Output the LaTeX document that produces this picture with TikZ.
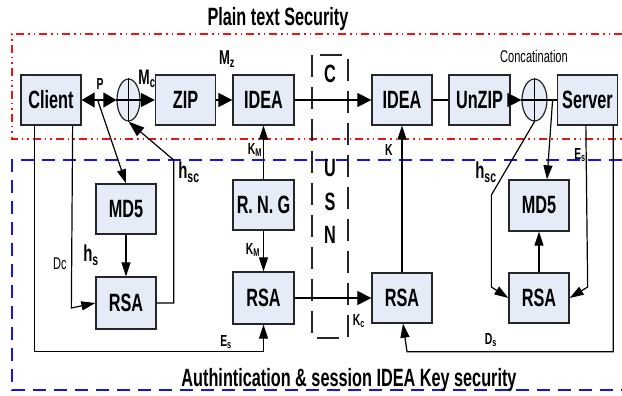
\documentclass[tikz,border=0pt]{standalone}
\usepackage{fontspec}
\setmainfont{Liberation Sans}[FakeStretch=0.65]
\usetikzlibrary{arrows.meta,shapes.geometric,calc}
\definecolor{boxfill}{RGB}{229,235,247}
\definecolor{redline}{RGB}{235,20,20}
\definecolor{blueline}{RGB}{20,20,235}
\begin{document}
\begin{tikzpicture}[x=1pt,y=-1pt,
  box/.style={draw=black!85, fill=boxfill, line width=1.3pt, minimum width=60pt, minimum height=50pt, inner sep=0pt, font=\bfseries\fontsize{25}{25}\selectfont},
  conc/.style={draw=black!85, fill=boxfill, line width=1.2pt, ellipse, minimum width=23pt, minimum height=42pt, inner sep=0pt},
  ln/.style={line width=1.2pt},
  arr/.style={ln, -{Triangle[length=14pt,width=9pt]}},
  bigarr/.style={ln, -{Triangle[length=14pt,width=14pt]}},
  lab/.style={inner sep=0pt, font=\bfseries\fontsize{16}{16}\selectfont},
  blab/.style={inner sep=0pt, font=\bfseries\fontsize{19}{19}\selectfont},
  hlab/.style={inner sep=0pt, font=\bfseries\fontsize{23}{23}\selectfont},
  ttl/.style={inner sep=0pt, font=\bfseries\fontsize{25}{25}\selectfont}
]
\useasboundingbox (0,0) rectangle (622,396);
% region outlines
\draw[redline, line width=1.2pt, dash pattern=on 8pt off 4pt on 1.5pt off 4pt on 1.5pt off 4pt]
  (622,34) -- (12,34) -- (12,139) -- (622,139);
\draw[blueline, line width=1.3pt, dash pattern=on 13pt off 8pt]
  (622,160) -- (12,160) -- (12,390) -- (622,390);
\draw[black!85, line width=1.2pt, dash pattern=on 22pt off 10pt] (312,55) rectangle (348,338);
\node[ttl] (t1) at (278,19) {Plain text Security};
\node[ttl] (t2) at (349,380) {Authintication \& session IDEA Key security};
% CUSN
\node[box, draw=none, fill=none, minimum width=0pt, minimum height=0pt] (cC) at (330,74) {C};
\node[box, draw=none, fill=none, minimum width=0pt, minimum height=0pt] (cU) at (330,168) {U};
\node[box, draw=none, fill=none, minimum width=0pt, minimum height=0pt] (cS) at (330,202) {S};
\node[box, draw=none, fill=none, minimum width=0pt, minimum height=0pt] (cN) at (330,235) {N};
% boxes
\node[box] (client) at (51,100) {Client};
\node[conc] (c1) at (128.5,100) {};
\draw[ln] (c1.north) -- (c1.south) (c1.west) -- (c1.east);
\node[blab, font=\bfseries\fontsize{21}{21}\selectfont] (lMc) at (147,79) {M\textsubscript{c}};
\node[box] (zip) at (185.5,100) {ZIP};
\node[box, minimum width=61pt] (idea1) at (263.5,100) {IDEA};
\node[box] (idea2) at (402,100) {IDEA};
\node[box, minimum width=61pt] (unzip) at (479.5,100) {UnZIP};
\node[conc, minimum width=25pt] (c2) at (534.5,100) {};
\draw[ln] (c2.north) -- (c2.south) (c2.west) -- (c2.east);
\node[box] (server) at (587.5,100) {Server};
\node[box] (md5a) at (126,209) {MD5};
\node[box, minimum height=52pt] (rsaa) at (126,303) {RSA};
\node[box, minimum width=61pt] (rng) at (263.5,205) {R.\,N.\,G};
\node[box, minimum width=61pt, minimum height=52pt] (rsab) at (263.5,298) {RSA};
\node[box] (rsac) at (402,298) {RSA};
\node[box, minimum height=51pt] (md5b) at (539,205.5) {MD5};
\node[box] (rsad) at (539,298) {RSA};
% top flow
\draw[ln, {Triangle[length=13pt,width=15pt]}-{Triangle[length=13pt,width=15pt]}] (client.east) -- (c1.west);
\draw[bigarr] (c1.east) -- (zip.west);
\draw[bigarr] (zip.east) -- (idea1.west);
\draw[bigarr] (idea1.east) -- (idea2.west);
\draw[ln] (idea2.east) -- (unzip.west);
\draw[bigarr] (unzip.east) -- (c2.west);
\draw[ln] (c2.east) -- (server.west);
% left side
\draw[arr] ($(client.east)+(16,0)$) -- (md5a.north);
\draw[arr] (md5a.south) -- (rsaa.north);
\draw[ln, -{Triangle[length=16pt,width=11pt]}] (rsaa.east) -| ($(rsaa.east)+(17,-143)$) -- (c1.south);
\draw[arr] ($(client.south east)+(-9,0)$) -- ($(rsaa.west)+(-24,5)$) -- (rsaa.west);
\draw[arr] ($(client.south west)+(14,0)$) |- ($(rsab.south)+(0,27)$) -- (rsab.south);
% middle
\draw[arr] (rng.north) -- (idea1.south);
\draw[arr] (rng.south) -- (rsab.north);
\draw[bigarr] (rsab.east) -- (rsac.west);
\draw[arr] (rsac.north) -- (idea2.south);
% right side
\draw[arr] ($(c2.east)+(5,0)$) -- ($(md5b.north)+(8,0)$);
\draw[arr] (c2.south) -- ($(rsad.west)+(-17,-103)$) -- ($(rsad.west)+(-17,-11)$) -- (rsad.west);
\draw[arr] (rsad.north) -- (md5b.south);
\draw[arr] ($(server.south west)+(29,0)$) -- ($(rsad.east)+(18,-11)$) -- (rsad.east);
\draw[arr] ($(server.south east)+(-5,0)$) |- ($(rsac.south)+(5,28)$) -- ($(rsac.south)+(1,0)$);
% labels
\node[lab] (lP) at (100,84) {P};
\node[blab, font=\bfseries\fontsize{20}{20}\selectfont] (lMz) at (227,59) {M\textsubscript{z}};
\node[hlab] (lhsc1) at (189,172) {h\textsubscript{sc}};
\node[hlab] (lhs) at (91,255) {h\textsubscript{s}};
\node[lab, font=\fontsize{17}{17}\selectfont] (lDc) at (60,264) {Dc};
\node[lab] (lEs1) at (226,342) {E\textsubscript{s}};
\node[lab] (lKM1) at (255,150) {K\textsubscript{M}};
\node[lab] (lKM2) at (253,250) {K\textsubscript{M}};
\node[lab] (lKc) at (359,321) {K\textsubscript{c}};
\node[lab] (lK) at (389,150) {K};
\node[lab] (lEs2) at (580,155) {E\textsubscript{s}};
\node[lab] (lDs) at (491,340) {D\textsubscript{s}};
\node[hlab] (lhsc2) at (486,172) {h\textsubscript{sc}};
\node[lab, font=\fontsize{17}{17}\selectfont] (lconc) at (534,56) {Concatination};
\end{tikzpicture}
\end{document}
